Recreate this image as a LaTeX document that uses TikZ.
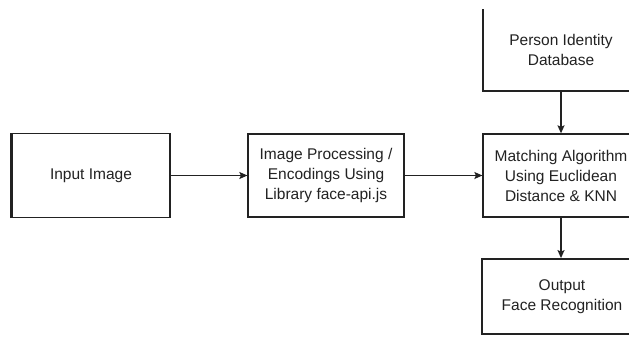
\documentclass[tikz,border=0pt]{standalone}
\usepackage{fontspec}
\setmainfont{Liberation Sans}
\usetikzlibrary{arrows.meta}
\definecolor{ink}{HTML}{222222}
\tikzset{
  box/.style={draw=ink, line width=1.3pt, rectangle, align=center, text=ink,
    font=\fontsize{15.5}{20}\selectfont, inner sep=0pt},
  link/.style={draw=ink, line width=1.3pt, -{Stealth[length=8pt,width=7pt,inset=1.5pt]}}
}
\begin{document}
\begin{tikzpicture}[x=1pt,y=-1pt]
  \useasboundingbox (0,0) rectangle (629,345);
  \fill[white] (0,0) rectangle (629,345);
  \clip (0,10) rectangle (629,345);
  % pipeline boxes
  \node[box, minimum width=158pt, minimum height=84pt] (input) at (91,175.5) {Input Image};
  \draw[ink, line width=2.6pt] (input.south west) -- (input.north west);
  \node[box, minimum width=156pt, minimum height=83pt] (proc) at (326,175.5)
    {Image Processing /\\Encodings Using\\Library face-api.js};
  \node[box, minimum width=156pt, minimum height=83pt] (match) at (561,175.5)
    {Matching Algorithm\\Using Euclidean\\Distance \& KNN};
  \node[box, minimum width=156pt, minimum height=83pt] (db) at (561,49.5)
    {Person Identity\\Database};
  \node[box, minimum width=160pt, minimum height=75pt, line width=1.8pt] (out) at (562,296.5)
    {Output\\Face Recognition};
  % connectors
  \draw[link] (input.east) -- (proc.west);
  \draw[link] (proc.east) -- (match.west);
  \draw[link] (db.south) -- (match.north);
  \draw[link] (match.south) -- (match.south |- out.north);
\end{tikzpicture}
\end{document}
